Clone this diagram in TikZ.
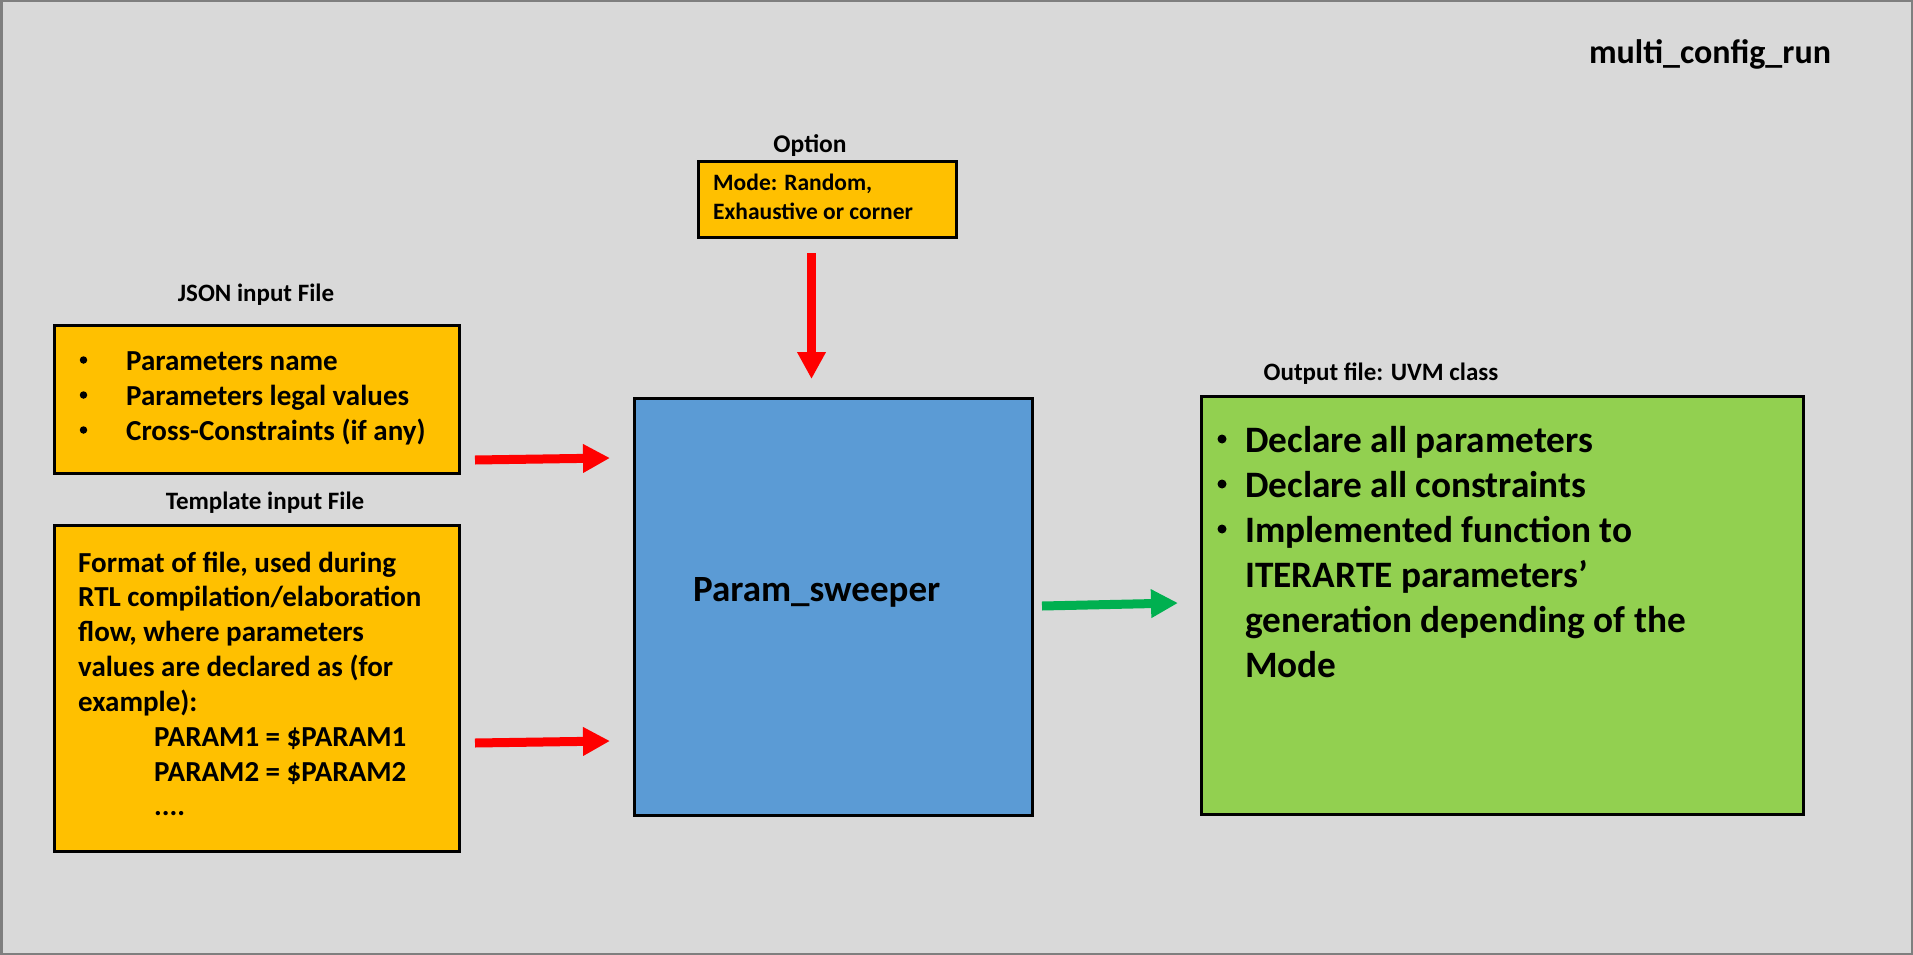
\documentclass[tikz,border=0pt]{standalone}
\usepackage{fontspec}
\setmainfont{Carlito}
\usetikzlibrary{arrows.meta}
\definecolor{bgc}{HTML}{D9D9D9}
\definecolor{framec}{HTML}{7F7F7F}
\definecolor{yel}{HTML}{FFC000}
\definecolor{blu}{HTML}{5B9BD5}
\definecolor{grn}{HTML}{92D050}
\definecolor{arrred}{HTML}{FF0000}
\definecolor{arrgrn}{HTML}{00B050}
\tikzset{
  x=1pt, y=-1pt,
  boxnode/.style={draw=black, line width=2.5pt, inner sep=0pt},
  lbl/.style={inner sep=0pt, anchor=base, font=\fontsize{25}{30}\selectfont\bfseries},
  txt/.style={inner sep=0pt, anchor=base west, font=\fontsize{#1}{#1}\selectfont\bfseries},
  bul/.style={inner sep=0pt, anchor=center, circle, fill=black, minimum size=#1},
  blockarrow/.style={line width=9pt, -{Triangle[width=27pt,length=27pt]}},
}
\begin{document}
\begin{tikzpicture}
\useasboundingbox (0,0) rectangle (1913,955);
\fill[bgc] (0,0) rectangle (1913,955);
\draw[framec, line width=2.5pt] (1.25,1.25) rectangle (1911.75,953.75);

% title
\node[lbl, font=\fontsize{34}{40}\selectfont\bfseries] (title) at (1710,64) {multi\_config\_run};

% option
\node[lbl, font=\fontsize{25.5}{30}\selectfont\bfseries] (optlbl) at (810,152) {Option};
\node[boxnode, fill=yel, minimum width=258pt, minimum height=76pt, anchor=north west] (opt) at (697,160) {};
\node[txt=23.5] (opt1) at (713,190) {Mode: Random,};
\node[txt=23.5] (opt2) at (713,219) {Exhaustive or corner};

% json
\node[lbl] (jsonlbl) at (256,301) {JSON input File};
\node[boxnode, fill=yel, minimum width=405pt, minimum height=148pt, anchor=north west] (json) at (53,324) {};
\node[bul=7.5pt] (jb1) at (83.5,360) {};
\node[bul=7.5pt] (jb2) at (83.5,395) {};
\node[bul=7.5pt] (jb3) at (83.5,430) {};
\node[txt=29] (j1) at (126,370) {Parameters name};
\node[txt=29] (j2) at (126,405) {Parameters legal values};
\node[txt=29] (j3) at (126,440) {Cross-Constraints (if any)};

% template
\node[lbl] (tpllbl) at (265,509) {Template input File};
\node[boxnode, fill=yel, minimum width=405pt, minimum height=326pt, anchor=north west] (tpl) at (53,524) {};
\node[txt=29] (t1) at (78,572) {Format of file, used during};
\node[txt=29] (t2) at (78,606) {RTL compilation/elaboration};
\node[txt=29] (t3) at (78,641) {flow, where parameters};
\node[txt=29] (t4) at (78,676) {values are declared as (for};
\node[txt=29] (t5) at (78,711) {example):};
\node[txt=29] (t6) at (154,746) {PARAM1 = \$PARAM1};
\node[txt=29] (t7) at (154,781) {PARAM2 = \$PARAM2};
\node[txt=29] (t8) at (154,815) {....};

% sweeper
\node[boxnode, fill=blu, minimum width=398pt, minimum height=417pt, anchor=north west] (sw) at (633,397) {};
\node[txt=37] (swt) at (693,601) {Param\_sweeper};

% output
\node[lbl] (outlbl) at (1381,380) {Output file: UVM class};
\node[boxnode, fill=grn, minimum width=602pt, minimum height=418pt, anchor=north west] (out) at (1200,395) {};
\node[bul=9pt] (ob1) at (1222,439) {};
\node[bul=9pt] (ob2) at (1222,484) {};
\node[bul=9pt] (ob3) at (1222,529) {};
\node[txt=37.3] (o1) at (1245,452) {Declare all parameters};
\node[txt=37.3] (o2) at (1245,497) {Declare all constraints};
\node[txt=37.3] (o3) at (1245,542) {Implemented function to};
\node[txt=37.3] (o4) at (1245,587) {ITERARTE parameters’};
\node[txt=37.3] (o5) at (1245,632) {generation depending of the};
\node[txt=37.3] (o6) at (1245,677) {Mode};

% arrows
\coordinate (dA) at (811.5,253);
\coordinate (dB) at (811.5,379);
\coordinate (a1s) at (475,460);
\coordinate (a1e) at (610,458);
\coordinate (a2s) at (475,743);
\coordinate (a2e) at (610,741);
\coordinate (g1s) at (1042,606);
\coordinate (g1e) at (1178,603);
\draw[blockarrow, arrred] (dA) -- (dB);
\draw[blockarrow, arrred] (a1s) -- (a1e);
\draw[blockarrow, arrred] (a2s) -- (a2e);
\draw[blockarrow, arrgrn] (g1s) -- (g1e);
\end{tikzpicture}
\end{document}
